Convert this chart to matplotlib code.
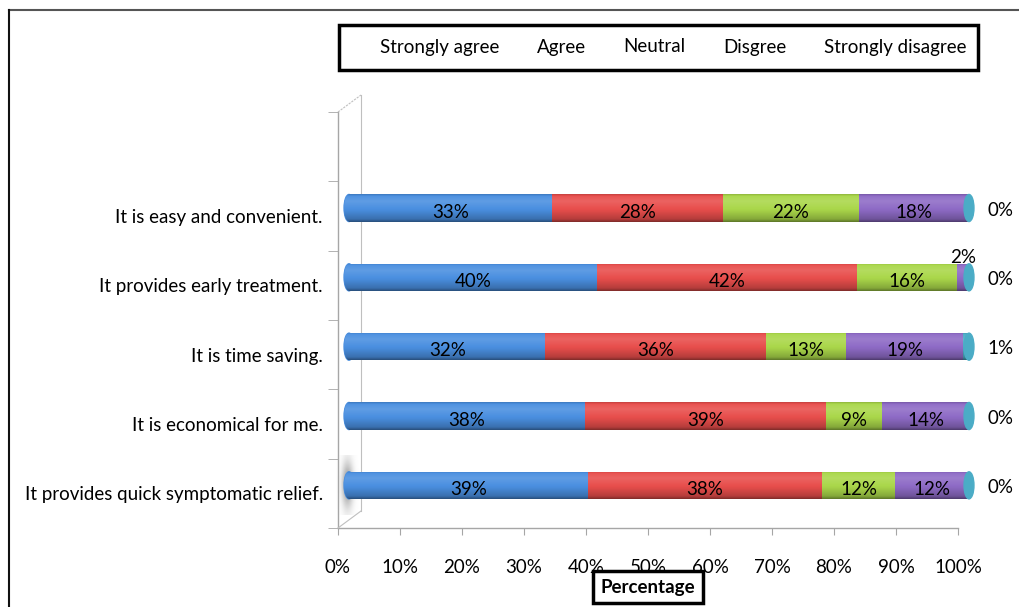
import numpy as np
import matplotlib
matplotlib.use("Agg")
import matplotlib.pyplot as plt
from matplotlib import transforms
from matplotlib.patches import Ellipse, Rectangle
from matplotlib.lines import Line2D

plt.rcParams['font.family'] = ['Lato', 'DejaVu Sans']

# Survey statements, bottom to top
statements = [
    "It provides quick symptomatic relief.",
    "It is economical for me.",
    "It is time saving.",
    "It provides early treatment.",
    "It is easy and convenient.",
]
series_names = ["Strongly agree", "Agree", "Neutral", "Disgree", "Strongly disagree"]
strongly_agree = [39, 38, 32, 40, 33]
agree = [38, 39, 36, 42, 28]
neutral = [12, 9, 13, 16, 22]
disagree = [12, 14, 19, 2, 18]
strongly_disagree = [0, 0, 1, 0, 0]
x_ticks = [0, 10, 20, 30, 40, 50, 60, 70, 80, 90, 100]
x_tick_labels = ["0%", "10%", "20%", "30%", "40%", "50%", "60%", "70%", "80%", "90%", "100%"]

series = [strongly_agree, agree, neutral, disagree, strongly_disagree]
colors = ["#4A8FE0", "#E84E4C", "#AAD74A", "#8E6BC6", "#4BACC6"]

FS = 13.5
W, H, DPI = 1020, 607, 100
fig = plt.figure(figsize=(W / DPI, H / DPI), dpi=DPI)
ax = fig.add_axes([338 / W, 1 - 528 / H, 620 / W, 416 / H])
ax.set_xlim(0, 100)
ax.set_ylim(-0.5, 5.5)

# bars sit a little behind the front plane (3-D depth offset)
bar_tr = transforms.offset_copy(ax.transData, fig=fig, x=11, y=8, units='dots')
bar_h = 0.39
cap_w = 1.6


def shaded(rgb, n=64):
    """Vertical cylinder shading: dark underside, bright upper band."""
    t = np.linspace(0, 1, n)
    f = np.interp(t, [0, 0.10, 0.40, 0.75, 0.92, 1.0], [0.55, 0.78, 0.97, 1.12, 1.04, 0.85])
    base = np.array(matplotlib.colors.to_rgb(rgb))
    out = np.empty((n, 2, 3))
    for i, fi in enumerate(f):
        c = base * fi if fi <= 1 else base + (1 - base) * (fi - 1)
        out[i, :, :] = np.clip(c, 0, 1)
    return out


def paint(patch, rgb, x0, x1, y0, y1, z):
    im = ax.imshow(shaded(rgb), extent=[x0, x1, y0, y1], transform=bar_tr,
                   aspect='auto', origin='lower', interpolation='bilinear', zorder=z)
    im.set_clip_path(patch)


y = np.arange(len(statements))
totals = np.sum(np.array(series), axis=0)
left = np.zeros(len(statements))

# soft shadow cast on the back wall by the lowest cylinder
yy_, xx_ = np.mgrid[0:60, 0:24]
blob = np.exp(-(((xx_ - 11) / 5.5) ** 2) - (((yy_ - 30) / 22) ** 2))
shadow = np.zeros((60, 24, 4))
shadow[..., :3] = 0.45
shadow[..., 3] = 0.75 * blob
p_low = ax.transData.transform((0, 0))
ax.imshow(shadow, extent=[p_low[0] - 2, p_low[0] + 22, p_low[1] - 22, p_low[1] + 38],
          transform=transforms.IdentityTransform(), aspect='auto', origin='lower',
          interpolation='bilinear', zorder=1, clip_on=False)

# left rounded end of each cylinder
for yi in y:
    e = Ellipse((0, yi), cap_w, bar_h, transform=bar_tr, color=colors[0], zorder=2,
                clip_on=False)
    ax.add_patch(e)
    paint(e, colors[0], -cap_w, cap_w, yi - bar_h / 2, yi + bar_h / 2, 2)

for k, (vals, col) in enumerate(zip(series, colors)):
    frac = np.array(vals) / totals * 100
    bars = ax.barh(y, frac, left=left, height=bar_h, color=col, transform=bar_tr,
                   zorder=3, linewidth=0, clip_on=False)
    for b, v, yi, l0, fw in zip(bars, vals, y, left, frac):
        if fw > 0:
            paint(b, col, l0, l0 + fw, yi - bar_h / 2, yi + bar_h / 2, 3)
        if k == len(series) - 1:
            ax.annotate(f"{v}%", (l0 + fw, yi), xycoords=bar_tr, xytext=(32, -2),
                        textcoords='offset pixels', ha='center', va='center',
                        fontsize=FS, zorder=6, annotation_clip=False)
        elif fw < 5:
            ax.annotate(f"{v}%", (l0 + fw / 2, yi), xycoords=bar_tr, xytext=(0, 20),
                        textcoords='offset pixels', ha='center', va='center',
                        fontsize=FS, zorder=6, annotation_clip=False)
        else:
            ax.annotate(f"{v}%", (l0 + fw / 2, yi), xycoords=bar_tr, xytext=(0, -4),
                        textcoords='offset pixels', ha='center', va='center',
                        fontsize=FS, zorder=6, annotation_clip=False)
    left = left + frac

# right end caps
for yi, tot in zip(y, left):
    e = Ellipse((tot, yi), cap_w, bar_h, transform=bar_tr, color=colors[-1], zorder=4,
                clip_on=False)
    ax.add_patch(e)
    paint(e, colors[-1], tot - cap_w, tot + cap_w, yi - bar_h / 2, yi + bar_h / 2, 4)

# axes styling
axis_grey = "#A6A6A6"
for s in ["top", "right"]:
    ax.spines[s].set_visible(False)
for s in ["left", "bottom"]:
    ax.spines[s].set_color(axis_grey)
    ax.spines[s].set_linewidth(1.0)
ax.set_xticks(x_ticks)
ax.set_xticklabels(x_tick_labels, fontsize=FS)
ax.tick_params(axis='x', length=5, color=axis_grey, pad=17)
ax.set_yticks(y)
ax.set_yticklabels(statements, fontsize=FS)
ax.tick_params(axis='y', length=0, pad=11)
ax.set_yticks(np.arange(-0.5, 6.0, 1.0), minor=True)
ax.tick_params(axis='y', which='minor', length=7, color=axis_grey)

# back wall edge and floor/top connectors
back_tr = transforms.offset_copy(ax.transData, fig=fig, x=23, y=17, units='dots')
ax.add_line(Line2D([0, 0], [-0.5, 5.5], transform=back_tr, color="#BFBFBF", lw=0.8,
                   zorder=1, clip_on=False))
for yy in (-0.5, 5.5):
    p0 = ax.transData.transform((0, yy))
    p1 = back_tr.transform((0, yy))
    fig.add_artist(Line2D([p0[0], p1[0]], [p0[1], p1[1]], transform=None,
                          color="#BFBFBF", lw=0.8, ls=(0, (2, 1)) if yy > 0 else '-'))

# x-axis title in a framed box
ax.set_xlabel("Percentage", fontsize=FS, fontweight='bold',
              bbox=dict(boxstyle='square,pad=0.4', fc='white', ec='black', lw=2.5))
ax.xaxis.set_label_coords(0.5, -(587 - 528) / 416)
ax.xaxis.label.set_va('center')

# legend: text entries only, inside a heavy frame
fig.add_artist(Rectangle((339, H - 70), 639, 45, transform=None, fill=False,
                         ec='black', lw=2.5))
handles = [Line2D([], [], linestyle='none') for _ in series_names]
leg = fig.legend(handles, series_names, ncol=5, loc='center',
                 bbox_to_anchor=(673 / W, 1 - 47 / H), handlelength=0, handletextpad=0,
                 columnspacing=2.0, fontsize=FS, frameon=False, borderaxespad=0)

# outer chart frame
fig.add_artist(Line2D([9, W], [H - 10, H - 10], transform=None, color="#555555", lw=1.5))
fig.add_artist(Line2D([9, 9], [0, H - 10], transform=None, color="#111111", lw=1.5))

fig.savefig("out.png", dpi=DPI)
